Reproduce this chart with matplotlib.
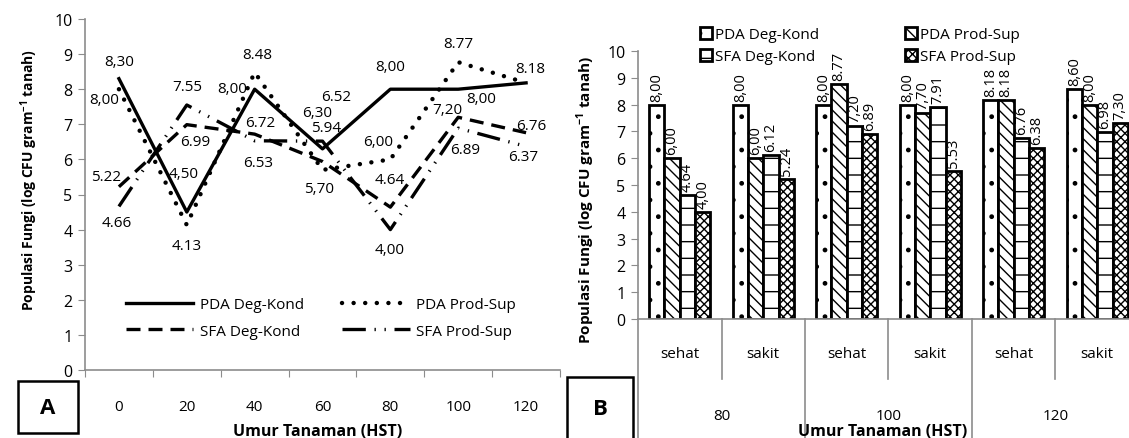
import matplotlib
matplotlib.use("Agg")
import matplotlib.pyplot as plt
from matplotlib.patches import Rectangle
import numpy as np

plt.rcParams['font.family'] = ['Open Sans', 'DejaVu Sans']
plt.rcParams['mathtext.fontset'] = 'custom'
plt.rcParams['mathtext.rm'] = 'Open Sans'
plt.rcParams['mathtext.bf'] = 'Open Sans:bold'
plt.rcParams['hatch.linewidth'] = 1.0

W, H = 1129, 439
GRAY = '#8c8c8c'
FS = 11

# ---- data: panel A (line chart) ----
days = ['0', '20', '40', '60', '80', '100', '120']
series = ['PDA Deg-Kond', 'PDA Prod-Sup', 'SFA Deg-Kond', 'SFA Prod-Sup']
pda_deg = [8.30, 4.50, 8.00, 6.30, 8.00, 8.00, 8.18]
pda_prod = [8.00, 4.13, 8.48, 5.70, 6.00, 8.77, 8.18]
sfa_deg = [5.22, 6.99, 6.72, 5.94, 4.64, 7.20, 6.76]
sfa_prod = [4.66, 7.55, 6.53, 6.52, 4.00, 6.89, 6.37]
lbl_pda_deg = ['8,30', '4,50', '8,00', '6,30', '8,00', '8,00', '']
lbl_pda_prod = ['8,00', '4.13', '8.48', '5,70', '6,00', '8.77', '8.18']
lbl_sfa_deg = ['5.22', '6.99', '6.72', '5.94', '4.64', '7,20', '6.76']
lbl_sfa_prod = ['4.66', '7.55', '6.53', '6.52', '4,00', '6.89', '6.37']

# ---- data: panel B (bar chart) ----
ages = ['80', '100', '120']
status = ['sehat', 'sakit', 'sehat', 'sakit', 'sehat', 'sakit']
bar_pda_deg = [8.00, 8.00, 8.00, 8.00, 8.18, 8.60]
bar_pda_prod = [6.00, 6.00, 8.77, 7.70, 8.18, 8.00]
bar_sfa_deg = [4.64, 6.12, 7.20, 7.91, 6.76, 6.98]
bar_sfa_prod = [4.00, 5.24, 6.89, 5.53, 6.38, 7.30]
blbl_pda_deg = ['8,00', '8,00', '8,00', '8,00', '8.18', '8,60']
blbl_pda_prod = ['6,00', '6,00', '8.77', '7,70', '8.18', '8,00']
blbl_sfa_deg = ['4.64', '6.12', '7,20', '7.91', '6.76', '6.98']
blbl_sfa_prod = ['4,00', '5.24', '6.89', '5.53', '6.38', '7,30']

fig = plt.figure(figsize=(W / 100, H / 100), dpi=100)

def fx(px):
    return px / W

def fy(py):
    return 1 - py / H

# ================= Panel A =================
axA = fig.add_axes([fx(85), fy(371), fx(560) - fx(85), fy(20) - fy(371)])
x = np.arange(len(days))
styles = [
    dict(linestyle='-', lw=2.4),
    dict(linestyle=(0, (0.01, 2.6)), dash_capstyle='round', lw=3.2),
    dict(linestyle=(0, (4.2, 2.4)), lw=2.4),
    dict(linestyle=(0, (7, 2.6, 0.4, 2.6, 0.4, 2.6)), lw=2.4),
]
vals = [pda_deg, pda_prod, sfa_deg, sfa_prod]
lbls = [lbl_pda_deg, lbl_pda_prod, lbl_sfa_deg, lbl_sfa_prod]
# label offsets in pixels (dx, dy)
offs = [
    [(0, 17), (-3, 39), (-22, 1), (-5, 36), (0, 23), (23, -9), (0, 0)],
    [(-15, -10), (0, -20), (3, 18), (-3, -19), (-12, 18), (0, 19), (4, 14)],
    [(-13, 10), (8, -17), (6, 12), (4, 34), (-1, 28), (-11, 8), (5, 7)],
    [(-2, -16), (0, 18), (3, -22), (14, 45), (-1, -20), (7, -21), (-3, -10)],
]
handles = []
for name, v, st, lb, off in zip(series, vals, styles, lbls, offs):
    ln, = axA.plot(x, v, color='black', label=name, **st)
    handles.append(ln)
    for i in range(len(days)):
        if lb[i]:
            axA.annotate(lb[i], (x[i], v[i]), xytext=off[i], textcoords='offset pixels',
                         ha='center', va='center', fontsize=FS)

axA.set_xlim(-0.5, 6.5)
axA.set_ylim(0, 10)
axA.set_yticks(range(0, 11))
axA.set_xticks(np.arange(-0.5, 7, 1))
axA.set_xticklabels([])
axA.set_xticks(x, minor=True)
axA.set_xticklabels(days, minor=True)
axA.tick_params(axis='x', which='minor', length=0, pad=21, labelsize=FS)
axA.tick_params(axis='x', which='major', length=5, color=GRAY, direction='out')
axA.tick_params(axis='y', length=5, color=GRAY, labelsize=11.5, pad=4)
for s in ['top', 'right']:
    axA.spines[s].set_visible(False)
for s in ['left', 'bottom']:
    axA.spines[s].set_color(GRAY)
    axA.spines[s].set_linewidth(1.2)
order = [0, 2, 1, 3]
axA.legend([handles[i] for i in order], [series[i] for i in order], ncol=2,
           loc='center', bbox_to_anchor=(0.497, 0.148), frameon=False, fontsize=FS,
           handlelength=4.4, handletextpad=0.45, columnspacing=2.5, labelspacing=0.75)
fig.text(fx(318), fy(432), 'Umur Tanaman (HST)', ha='center', va='center',
         fontsize=11.5, fontweight='bold')
fig.text(fx(29), fy(180), r'Populasi Fungi (log CFU gram$^{\mathbf{-1}}$ tanah)', rotation=90,
         ha='center', va='center', fontsize=10, fontweight='bold')

# ================= Panel B =================
axB = fig.add_axes([fx(638), fy(320), fx(501), fy(52) - fy(320)])
g = np.arange(len(status)) + 0.5
bw = 0.183
hatches = ['.', '\\\\\\', '-', 'xxxx']
bvals = [bar_pda_deg, bar_pda_prod, bar_sfa_deg, bar_sfa_prod]
blbls = [blbl_pda_deg, blbl_pda_prod, blbl_sfa_deg, blbl_sfa_prod]
bh = []
for k, (name, v, hat, lb) in enumerate(zip(series, bvals, hatches, blbls)):
    pos = g + (k - 1.5) * bw
    b = axB.bar(pos, v, bw, facecolor='white', edgecolor='black', linewidth=2.0,
                hatch=hat, label=name)
    bh.append(b)
    for p, val, t in zip(pos, v, lb):
        axB.annotate(t, (p, val), xytext=(0, 4), textcoords='offset pixels',
                     rotation=90, ha='center', va='bottom', fontsize=10.5)

axB.set_xlim(0, 6)
axB.set_ylim(0, 10)
axB.set_yticks(range(0, 11))
axB.set_xticks([])
axB.tick_params(axis='y', length=5, color=GRAY, labelsize=11.5, pad=4)
for s in ['top', 'right']:
    axB.spines[s].set_visible(False)
for s in ['left', 'bottom']:
    axB.spines[s].set_color(GRAY)
    axB.spines[s].set_linewidth(1.2)

# category axis below the bars
for xb in [1, 3, 5]:
    axB.plot([xb, xb], [0, -2.24], color=GRAY, lw=1.2, clip_on=False)
for xb in [0, 2, 4, 6]:
    axB.plot([xb, xb], [0, -4.44], color=GRAY, lw=1.2, clip_on=False)
for gx, st in zip(g, status):
    axB.text(gx, -1.3, st, ha='center', va='center', fontsize=FS)
for i, a in enumerate(ages):
    axB.text(2 * i + 1, -3.6, a, ha='center', va='center', fontsize=FS)
fig.text(fx(883), fy(432), 'Umur Tanaman (HST)', ha='center', va='center',
         fontsize=11.5, fontweight='bold')
fig.text(fx(586), fy(200), r'Populasi Fungi (log CFU gram$^{\mathbf{-1}}$ tanah)', rotation=90,
         ha='center', va='center', fontsize=11, fontweight='bold')
fig.legend([bh[i] for i in order], [series[i] for i in order], ncol=2,
           loc='center', bbox_to_anchor=(fx(860), fy(46.5)), frameon=False, fontsize=FS,
           handlelength=0.8, handleheight=0.8, handletextpad=0.2, columnspacing=5.6,
           labelspacing=0.45)

# panel letters
for (x0, y0, x1, y1), letter in [((18, 382, 78, 434), 'A'), ((567, 378, 633, 440), 'B')]:
    fig.add_artist(Rectangle((fx(x0), fy(y1)), fx(x1 - x0), fy(y0) - fy(y1),
                             transform=fig.transFigure, fill=False, edgecolor='black', lw=1.8))
    fig.text(fx((x0 + x1) / 2), fy((y0 + y1) / 2 + 1), letter, ha='center', va='center',
             fontsize=16, fontweight='bold')

fig.savefig('out.png', dpi=100)
